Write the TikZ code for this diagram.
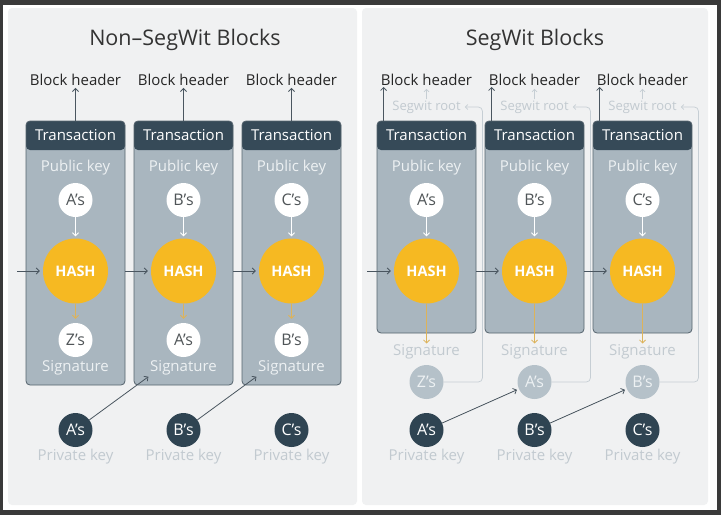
\documentclass[tikz,border=0pt]{standalone}
\usepackage{fontspec}
\setmainfont{Open Sans}
\usepackage{tikz}
\usetikzlibrary{arrows.meta, positioning}
\definecolor{framedark}{HTML}{3A3A3A}
\definecolor{panelgray}{HTML}{F0F1F2}
\definecolor{boxblue}{HTML}{A9B6BF}
\definecolor{boxline}{HTML}{56646E}
\definecolor{headdark}{HTML}{364A58}
\definecolor{hashyellow}{HTML}{F6B922}
\definecolor{keydark}{HTML}{2F4452}
\definecolor{arrowdark}{HTML}{4A5660}
\definecolor{softtext}{HTML}{C2CAD0}
\definecolor{softline}{HTML}{C6CED4}
\definecolor{sigsoft}{HTML}{B5C1C9}
\definecolor{boxtext}{HTML}{EDF1F3}
\definecolor{yelline}{HTML}{DDB35A}
\definecolor{circtext}{HTML}{505558}
\tikzstyle{arrow} = [draw, -{Straight Barb[length=3pt, width=6pt]}, line width=0.8pt, arrowdark]
\tikzstyle{softarrow} = [draw, -{Straight Barb[length=2.5pt, width=5pt]}, line width=0.7pt, softline]
\tikzstyle{whitearrow} = [draw, -{Straight Barb[length=3pt, width=6pt]}, line width=0.8pt, white]
\tikzstyle{hasharrow} = [draw, -{Straight Barb[length=3pt, width=6pt]}, line width=0.8pt, yelline]

\begin{document}
\begin{tikzpicture}[x=1pt, y=-1pt, every node/.style={inner sep=0pt},
		txbox/.style={draw=boxline, line width=0.8pt, fill=boxblue, rounded corners=4pt, minimum width=99pt,
			path picture={\fill[headdark] (path picture bounding box.north west) rectangle ([yshift=-29pt]path picture bounding box.north east);}},
		title/.style={text=black!80, font=\fontsize{21.5}{25}\selectfont},
		hdrtext/.style={text=black!85, font=\fontsize{15}{18}\selectfont},
		txtext/.style={text=white, font=\fontsize{15}{18}\selectfont},
		intext/.style={text=boxtext, font=\fontsize{15}{18}\selectfont},
		softlabel/.style={text=softtext, font=\fontsize{15}{18}\selectfont},
		rootlabel/.style={text=softtext, font=\fontsize{13}{15}\selectfont},
		pubkey/.style={circle, fill=white, minimum size=34pt, text=circtext, font=\fontsize{16}{18}\selectfont},
		hashnode/.style={circle, fill=hashyellow, minimum size=65pt, text=white, font=\fontsize{14.5}{16}\selectfont\bfseries},
		privkey/.style={circle, fill=keydark, minimum size=34pt, text=white, font=\fontsize{16}{18}\selectfont},
		sigkey/.style={circle, fill=sigsoft, minimum size=34pt, text=boxtext, font=\fontsize{16}{18}\selectfont}]
	\useasboundingbox (0,0) rectangle (721,515);
	\fill[framedark] (0,0) rectangle (721,515);
	\fill[white] (3,5) rectangle (717,510);
	\fill[panelgray, rounded corners=4pt] (8,8) rectangle (357,505);
	\fill[panelgray, rounded corners=4pt] (362,8) rectangle (708,505);
	
	% Non-SegWit
	\node[title] (titleL) at (185,40) {Non–SegWit Blocks};
	\node[hdrtext] (hdrA) at (75.5,80) {Block header};
	\node[hdrtext] (hdrB) at (183.5,80) {Block header};
	\node[hdrtext] (hdrC) at (291.5,80) {Block header};
	\node[txbox, minimum height=264pt] (boxA) at (75.5,253) {};
	\node[txbox, minimum height=264pt] (boxB) at (183.5,253) {};
	\node[txbox, minimum height=264pt] (boxC) at (291.5,253) {};
	\node[txtext] (txA) at (75.5,135.5) {Transaction};
	\node[txtext] (txB) at (183.5,135.5) {Transaction};
	\node[txtext] (txC) at (291.5,135.5) {Transaction};
	\node[intext] (pubtA) at (75.5,168) {Public key};
	\node[intext] (pubtB) at (183.5,168) {Public key};
	\node[intext] (pubtC) at (291.5,168) {Public key};
	\node[pubkey] (pubA) at (75.5,200) {A’s};
	\node[pubkey] (pubB) at (183.5,200) {B’s};
	\node[pubkey] (pubC) at (291.5,200) {C’s};
	\node[hashnode] (hashA) at (75.5,271) {HASH};
	\node[hashnode] (hashB) at (183.5,271) {HASH};
	\node[hashnode] (hashC) at (291.5,271) {HASH};
	\node[pubkey] (sigA) at (75.5,340) {Z’s};
	\node[pubkey] (sigB) at (183.5,340) {A’s};
	\node[pubkey] (sigC) at (291.5,340) {B’s};
	\node[intext] (sigtA) at (75.5,368) {Signature};
	\node[intext] (sigtB) at (183.5,368) {Signature};
	\node[intext] (sigtC) at (291.5,368) {Signature};
	\node[privkey] (privA) at (75.5,430) {A’s};
	\node[privkey] (privB) at (183.5,430) {B’s};
	\node[privkey] (privC) at (291.5,430) {C’s};
	\node[softlabel] (privtA) at (75.5,457) {Private key};
	\node[softlabel] (privtB) at (183.5,457) {Private key};
	\node[softlabel] (privtC) at (291.5,457) {Private key};
	\coordinate (inA) at (17,271);
	
	\draw[arrow, shorten >=2pt] (boxA.north) -- (hdrA.south);
	\draw[arrow, shorten >=2pt] (boxB.north) -- (hdrB.south);
	\draw[arrow, shorten >=2pt] (boxC.north) -- (hdrC.south);
	\draw[whitearrow, shorten >=2pt] (pubA) -- (hashA);
	\draw[whitearrow, shorten >=2pt] (pubB) -- (hashB);
	\draw[whitearrow, shorten >=2pt] (pubC) -- (hashC);
	\draw[hasharrow, shorten >=4pt] (hashA) -- (sigA);
	\draw[hasharrow, shorten >=4pt] (hashB) -- (sigB);
	\draw[hasharrow, shorten >=4pt] (hashC) -- (sigC);
	\draw[arrow, shorten >=3pt] (inA) -- (hashA);
	\draw[arrow, shorten >=3pt] (boxA.east |- hashA) -- (hashB);
	\draw[arrow, shorten >=3pt] (boxB.east |- hashB) -- (hashC);
	\draw[arrow, shorten >=2pt] (privA) -- (sigtB.south west);
	\draw[arrow, shorten >=2pt] (privB) -- (sigtC.south west);
	
	% SegWit
	\node[title] (titleR) at (535,40) {SegWit Blocks};
	\node[hdrtext] (hdrD) at (426.5,80) {Block header};
	\node[hdrtext] (hdrE) at (534.5,80) {Block header};
	\node[hdrtext] (hdrF) at (642.5,80) {Block header};
	\node[rootlabel] (rootD) at (426.5,107) {Segwit root};
	\node[rootlabel] (rootE) at (534.5,107) {Segwit root};
	\node[rootlabel] (rootF) at (642.5,107) {Segwit root};
	\node[txbox, minimum height=212pt] (boxD) at (426.5,227) {};
	\node[txbox, minimum height=212pt] (boxE) at (534.5,227) {};
	\node[txbox, minimum height=212pt] (boxF) at (642.5,227) {};
	\node[txtext] (txD) at (426.5,135.5) {Transaction};
	\node[txtext] (txE) at (534.5,135.5) {Transaction};
	\node[txtext] (txF) at (642.5,135.5) {Transaction};
	\node[intext] (pubtD) at (426.5,168) {Public key};
	\node[intext] (pubtE) at (534.5,168) {Public key};
	\node[intext] (pubtF) at (642.5,168) {Public key};
	\node[pubkey] (pubD) at (426.5,200) {A’s};
	\node[pubkey] (pubE) at (534.5,200) {B’s};
	\node[pubkey] (pubF) at (642.5,200) {C’s};
	\node[hashnode] (hashD) at (426.5,271) {HASH};
	\node[hashnode] (hashE) at (534.5,271) {HASH};
	\node[hashnode] (hashF) at (642.5,271) {HASH};
	\node[softlabel] (sigtD) at (426.5,352) {Signature};
	\node[softlabel] (sigtE) at (534.5,352) {Signature};
	\node[softlabel] (sigtF) at (642.5,352) {Signature};
	\node[sigkey] (sigD) at (426.5,382) {Z’s};
	\node[sigkey] (sigE) at (534.5,382) {A’s};
	\node[sigkey] (sigF) at (642.5,382) {B’s};
	\node[privkey] (privD) at (426.5,430) {A’s};
	\node[privkey] (privE) at (534.5,430) {B’s};
	\node[privkey] (privF) at (642.5,430) {C’s};
	\node[softlabel] (privtD) at (426.5,457) {Private key};
	\node[softlabel] (privtE) at (534.5,457) {Private key};
	\node[softlabel] (privtF) at (642.5,457) {Private key};
	\coordinate (inD) at (367,271);
	
	\draw[arrow, shorten >=1pt] ([xshift=7pt]boxD.north west) -- ([xshift=7pt]boxD.north west |- hdrD.south);
	\draw[arrow, shorten >=1pt] ([xshift=7pt]boxE.north west) -- ([xshift=7pt]boxE.north west |- hdrE.south);
	\draw[arrow, shorten >=1pt] ([xshift=7pt]boxF.north west) -- ([xshift=7pt]boxF.north west |- hdrF.south);
	\draw[softarrow, shorten <=1pt, shorten >=3pt] (rootD.north) -- (hdrD.south);
	\draw[softarrow, shorten <=1pt, shorten >=3pt] (rootE.north) -- (hdrE.south);
	\draw[softarrow, shorten <=1pt, shorten >=3pt] (rootF.north) -- (hdrF.south);
	\draw[softarrow, rounded corners=4pt, shorten >=4pt] (sigD.east) -| ([xshift=6pt]boxD.east |- rootD) -- (rootD.east);
	\draw[softarrow, rounded corners=4pt, shorten >=4pt] (sigE.east) -| ([xshift=6pt]boxE.east |- rootE) -- (rootE.east);
	\draw[softarrow, rounded corners=4pt, shorten >=4pt] (sigF.east) -| ([xshift=6pt]boxF.east |- rootF) -- (rootF.east);
	\draw[whitearrow, shorten >=2pt] (pubD) -- (hashD);
	\draw[whitearrow, shorten >=2pt] (pubE) -- (hashE);
	\draw[whitearrow, shorten >=2pt] (pubF) -- (hashF);
	\draw[hasharrow, shorten >=1pt] (hashD) -- (sigtD.north);
	\draw[hasharrow, shorten >=1pt] (hashE) -- (sigtE.north);
	\draw[hasharrow, shorten >=1pt] (hashF) -- (sigtF.north);
	\draw[arrow, shorten >=3pt] (inD) -- (hashD);
	\draw[arrow, shorten >=3pt] (boxD.east |- hashD) -- (hashE);
	\draw[arrow, shorten >=3pt] (boxE.east |- hashE) -- (hashF);
	\draw[arrow, shorten >=2pt] (privD) -- (sigE);
	\draw[arrow, shorten >=2pt] (privE) -- (sigF);
\end{tikzpicture}
\end{document}
